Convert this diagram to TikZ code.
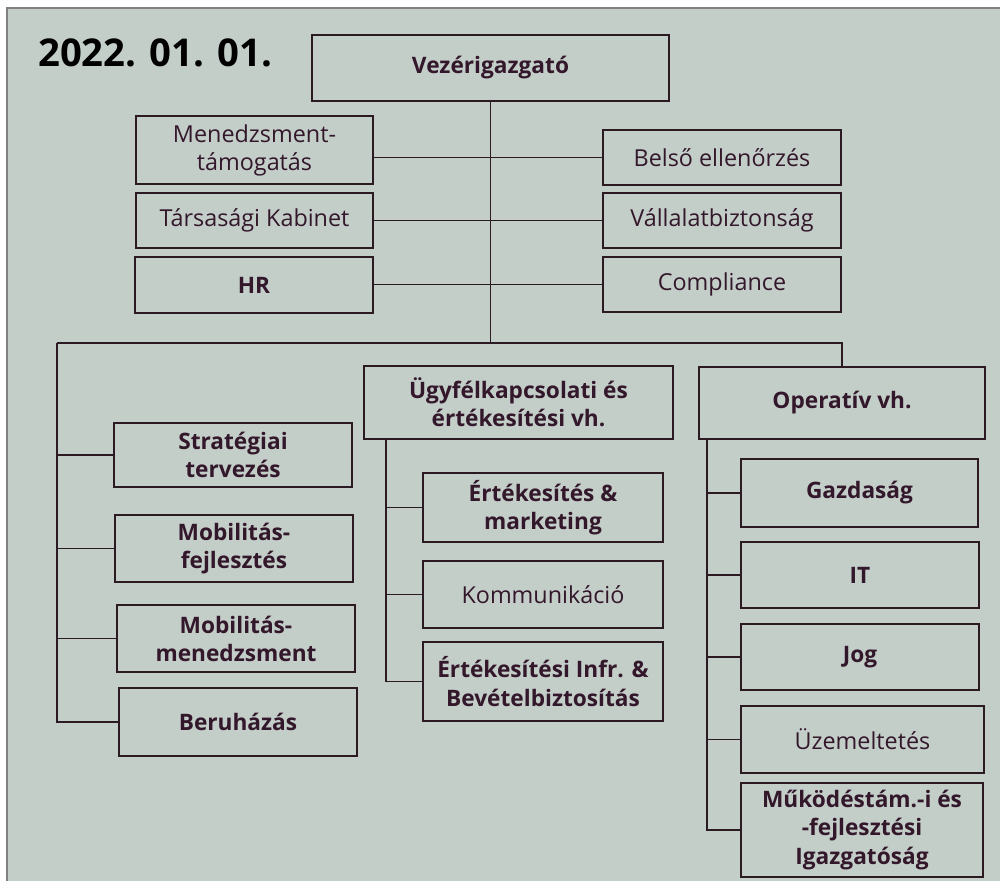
\documentclass[tikz,border=0pt]{standalone}
\usepackage{fontspec}
\setmainfont{Open Sans}
\definecolor{scan}{HTML}{C4CEC9}
\definecolor{ink}{HTML}{2B1A22}
\definecolor{txt}{HTML}{33172A}
\begin{document}
\begin{tikzpicture}[x=0.02cm,y=-0.02cm,
    unit/.style={draw=ink, line width=1.4pt, text=txt, align=center, inner sep=1pt,
      font=\fontsize{13.3}{16}\selectfont},
    unitb/.style={unit, font=\fontsize{12.9}{16}\selectfont\bfseries},
    link/.style={draw=ink, line width=0.9pt}]
  \useasboundingbox (0,0) rectangle (1000,881);
  \fill[white] (0,0) rectangle (1000,881);
  \fill[scan] (7,8) rectangle (1000,881);
  \draw[gray, line width=0.6pt] (7,881) -- (7,8) -- (1000,8);

  \node[anchor=west, font=\fontsize{21.8}{25}\selectfont\bfseries, text=black] (datum) at (32,53) {2022. 01. 01.};

  \node[unitb, minimum width=7.14cm, minimum height=1.32cm] (vez) at (490.5,68) {Vezérigazgató};
  \node[unit, minimum width=4.74cm, minimum height=1.36cm] (mgmt) at (254.5,150) {Menedzsment-\\támogatás};
  \node[unit, minimum width=4.74cm, minimum height=1.1cm] (kabinet) at (254.5,220.5) {Társasági Kabinet};
  \node[unitb, minimum width=4.76cm, minimum height=1.12cm] (hr) at (254,285) {HR};
  \node[unit, minimum width=4.76cm, minimum height=1.1cm] (belso) at (722,157.5) {Belső ellenőrzés};
  \node[unit, minimum width=4.76cm, minimum height=1.1cm] (vallalat) at (722,220.5) {Vállalatbiztonság};
  \node[unit, minimum width=4.76cm, minimum height=1.1cm] (compl) at (722,284.5) {Compliance};

  \node[unitb, minimum width=6.18cm, minimum height=1.46cm] (ugyf) at (518.5,402.5) {Ügyfélkapcsolati és\\értékesítési vh.};
  \node[unitb, minimum width=5.72cm, minimum height=1.44cm] (oper) at (842,403) {Operatív vh.};

  \node[unitb, minimum width=4.76cm, minimum height=1.28cm] (strat) at (233,455) {Stratégiai\\tervezés};
  \node[unitb, minimum width=4.76cm, minimum height=1.34cm] (mobf) at (234,548.5) {Mobilitás-\\fejlesztés};
  \node[unitb, minimum width=4.76cm, minimum height=1.34cm] (mobm) at (236,638.5) {Mobilitás-\\menedzsment};
  \node[unitb, minimum width=4.76cm, minimum height=1.36cm] (beru) at (238,722) {Beruházás};

  \node[unitb, minimum width=4.8cm, minimum height=1.38cm] (ertm) at (543,507.5) {Értékesítés \&\\marketing};
  \node[unit, minimum width=4.8cm, minimum height=1.34cm] (komm) at (543,594.5) {Kommunikáció};
  \node[unitb, minimum width=4.8cm, minimum height=1.58cm] (infr) at (543,681.5) {Értékesítési Infr. \&\\Bevételbiztosítás};

  \node[unitb, minimum width=4.74cm, minimum height=1.36cm] (gazd) at (859.5,493) {Gazdaság};
  \node[unitb, minimum width=4.76cm, minimum height=1.32cm] (it) at (860,575) {IT};
  \node[unitb, minimum width=4.76cm, minimum height=1.32cm] (jog) at (860,657) {Jog};
  \node[unit, minimum width=4.86cm, minimum height=1.34cm] (uzem) at (862.5,739.5) {Üzemeltetés};
  \node[unitb, minimum width=4.84cm, minimum height=1.88cm] (mukod) at (862,830) {Működéstám.-i és\\-fejlesztési\\Igazgatóság};

  \coordinate (lbus) at (57,343);
  \coordinate (mbus) at ([xshift=0.46cm]ugyf.south west);
  \coordinate (rbus) at ([xshift=0.18cm]oper.south west);

  \draw[link] (vez.south) -- (vez.south |- lbus);
  \foreach \l/\r in {mgmt/belso, kabinet/vallalat, hr/compl}{
    \draw[link] (\r.west) -- (\r.west -| \l.east);
  }
  \draw[link] (lbus) -| (oper.north);
  \draw[link] (lbus) |- (beru.west);
  \foreach \n in {strat,mobf,mobm}{
    \draw[link] (lbus |- \n.west) -- (\n.west);
  }
  \draw[link] (mbus) |- (infr.west);
  \foreach \n in {ertm,komm}{
    \draw[link] (mbus |- \n.west) -- (\n.west);
  }
  \draw[link] (rbus) |- (mukod.west);
  \foreach \n in {gazd,it,jog,uzem}{
    \draw[link] (rbus |- \n.west) -- (\n.west);
  }
\end{tikzpicture}
\end{document}
